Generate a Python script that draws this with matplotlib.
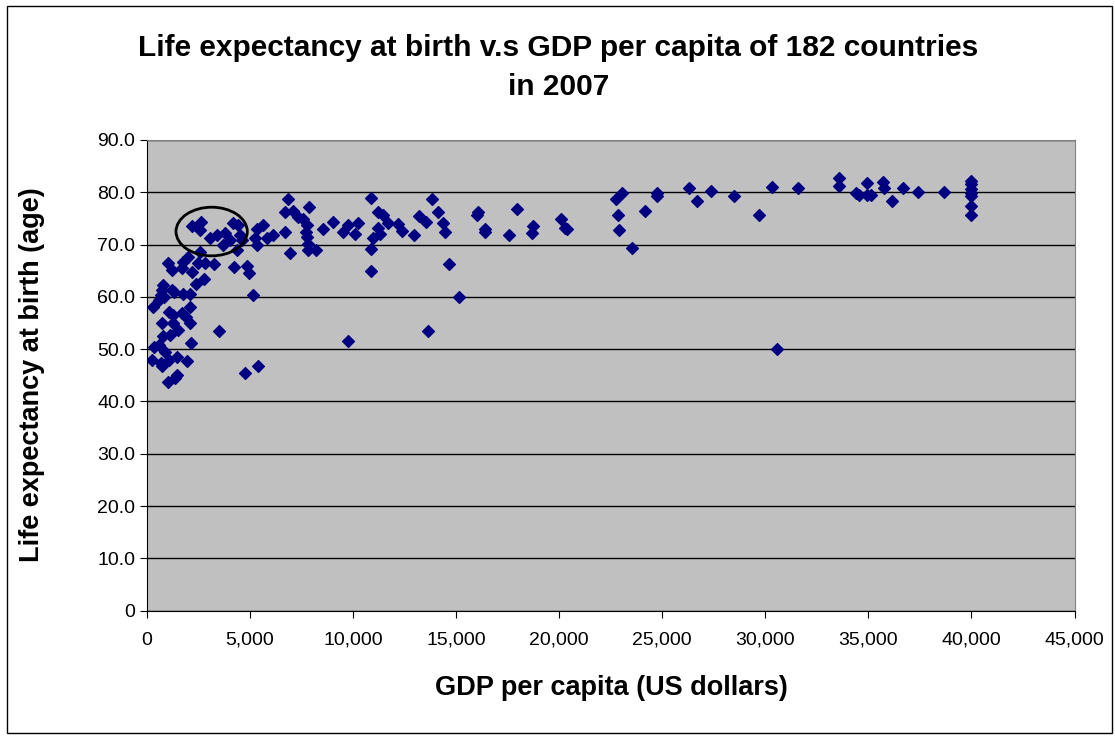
import numpy as np
import matplotlib
matplotlib.use("Agg")
import matplotlib.pyplot as plt
from matplotlib.patches import Ellipse, Rectangle
from matplotlib.ticker import FuncFormatter

plt.rcParams['font.family'] = ['Liberation Sans', 'DejaVu Sans']

## values (GDP per capita, life expectancy)
gdp = [6856, 6696, 7100, 7877, 7341, 7584, 7779, 7700, 7749, 7827,
       7827, 8185, 6696, 6939, 8555, 9040,
       2198, 2620, 2572, 3057, 3381, 3785, 3672, 4027, 4189, 4430,
       4512, 4593, 4350, 5322, 5645, 5240, 5322, 5808, 6099,
       2572, 2004, 1732, 1033, 1197, 1682, 2167, 2490, 2814, 3251,
       4221, 4837, 4965, 2766, 2377, 762, 713, 1197, 1310, 1761,
       2086, 665, 825, 597, 306, 5127, 2086, 1082, 1276, 1682,
       1892, 742, 1276, 2086, 1519, 1116, 762, 3508, 340, 597,
       2120, 888, 228, 665, 713, 1082, 1441, 1926, 1470, 1359,
       1033, 4755, 5400,
       9525, 9768, 10092, 10253, 10854, 11224, 11436, 11224, 11305, 10951,
       10854, 10854, 11710, 12164, 12358, 12955, 13212, 13523, 13843, 14105,
       14348, 14459, 14669, 15154, 13620, 9768, 15997, 16077, 16400, 16400,
       17580, 17938, 18744, 18696, 20064, 20281, 20365,
       22756, 23032, 22838, 22901, 23517, 24163, 24760, 24760, 26298, 26700,
       27350, 28496, 29694, 30309, 30582, 31572, 33590, 33590,
       34401, 34563, 34920, 34950, 35114, 35697, 35775, 36134, 36696, 37395,
       38686, 40000, 40000, 40000, 40000, 40000, 40000, 40000]
life = [78.7, 76.2, 76.5, 77.1, 75.3, 74.8, 73.7, 72.5, 71.4, 70.2,
        69.0, 69.0, 72.5, 68.3, 72.9, 74.3,
        73.6, 74.4, 72.8, 71.2, 71.8, 72.2, 69.9, 70.9, 74.1, 73.7,
        71.8, 70.9, 69.0, 72.9, 73.7, 71.2, 69.9, 71.2, 71.8,
        68.6, 67.7, 66.7, 66.4, 65.1, 65.5, 64.8, 66.4, 66.5, 66.3,
        65.7, 65.9, 64.6, 63.4, 62.5, 62.3, 61.3, 61.3, 61.0, 60.6,
        60.6, 60.4, 60.0, 59.4, 58.0, 60.4, 58.0, 57.2, 56.5, 56.9,
        56.2, 55.0, 55.1, 55.1, 53.7, 52.7, 52.5, 53.5, 50.4, 50.8,
        51.1, 49.5, 47.9, 47.3, 46.7, 47.9, 48.6, 47.8, 45.1, 44.4,
        43.8, 45.4, 46.7,
        72.4, 73.7, 72.0, 74.1, 78.9, 76.2, 75.7, 73.2, 72.0, 71.2,
        69.1, 65.0, 74.1, 73.9, 72.6, 71.8, 75.5, 74.3, 78.7, 76.2,
        74.1, 72.4, 66.3, 60.0, 53.5, 51.6, 75.7, 76.2, 73.0, 72.4,
        71.8, 76.9, 73.6, 72.3, 74.8, 73.2, 72.9,
        78.7, 79.8, 75.7, 72.7, 69.3, 76.5, 79.8, 79.2, 80.9, 78.4,
        80.3, 79.2, 75.7, 81.1, 50.0, 80.8, 82.8, 81.2,
        79.8, 79.5, 81.7, 79.5, 79.5, 82.0, 80.9, 78.4, 80.9, 80.0,
        80.0, 82.2, 81.5, 80.6, 79.9, 79.3, 77.4, 75.6]

fig = plt.figure(figsize=(11.15, 7.38), dpi=100)
ax = fig.add_axes([0.1318, 0.1725, 0.8319, 0.6378])

# outer chart border
fig.patches.append(Rectangle((0.006, 0.007), 0.991, 0.985, transform=fig.transFigure,
                             fill=False, edgecolor="black", linewidth=1))

ax.set_facecolor("#c0c0c0")
ax.scatter(gdp, life, marker="D", s=36, color="#000080", zorder=3)

# circle around the highlighted group
ax.add_patch(Ellipse((3139, 72.5), 3459, 9.3, fill=False, edgecolor="black",
                     linewidth=2, zorder=4))

ax.set_xlim(0, 45000)
ax.set_ylim(0, 90)
ax.set_xticks(np.arange(0, 45001, 5000))
ax.set_yticks(np.arange(0, 91, 10))
ax.xaxis.set_major_formatter(FuncFormatter(lambda v, p: "{:,.0f}".format(v)))
ax.yaxis.set_major_formatter(FuncFormatter(lambda v, p: "0" if v == 0 else "{:.1f}".format(v)))
ax.grid(axis="y", color="black", linewidth=1)
ax.set_axisbelow(True)
ax.tick_params(labelsize=14, direction="out", length=5, color="black")
ax.tick_params(axis="x", pad=10)
for s in ["top", "right"]:
    ax.spines[s].set_color("#808080")
ax.spines["left"].set_color("black")
ax.spines["bottom"].set_color("black")

fig.text(0.548, 0.068, "GDP per capita (US dollars)", ha="center", va="center",
         fontsize=19.5, fontweight="bold")
fig.text(0.029, 0.492, "Life expectancy at birth (age)", ha="center", va="center",
         rotation=90, fontsize=19.5, fontweight="bold")
fig.text(0.501, 0.908, "Life expectancy at birth v.s GDP per capita of 182 countries\nin 2007",
         ha="center", va="center", fontsize=21.5, fontweight="bold", linespacing=1.5)

plt.savefig("out.png", dpi=100)
